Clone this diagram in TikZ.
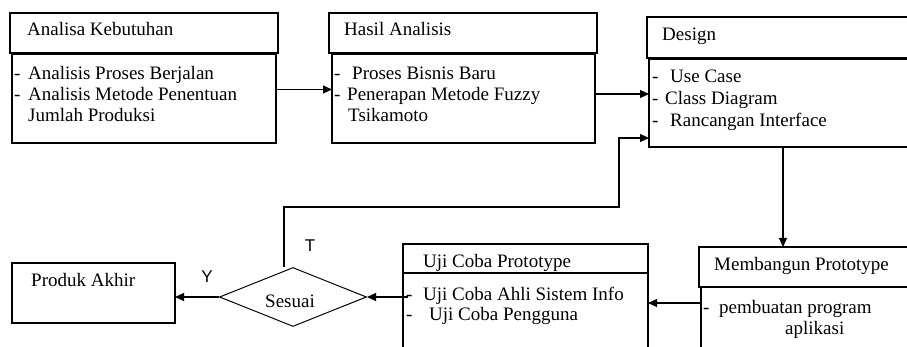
\documentclass[tikz,border=0pt]{standalone}
\usepackage{fontspec}
\setmainfont{Liberation Serif}
\newfontfamily\labelfont{Liberation Sans}
\usetikzlibrary{arrows.meta,shapes.geometric}
\begin{document}
\begin{tikzpicture}[x=1pt,y=-1pt,
  box/.style={draw, line width=1.1pt, anchor=north west, inner sep=0pt, outer sep=0pt},
  txt/.style={inner sep=0pt, anchor=base west, font=\fontsize{19}{21}\selectfont},
  yn/.style={inner sep=0pt, anchor=center, font=\labelfont\fontsize{17}{19}\selectfont},
  conn/.style={line width=1.1pt, -{Triangle[length=9pt,width=8pt]}}]
\useasboundingbox (0,0) rectangle (907,347);
\fill[white] (0,0) rectangle (907,347);
\clip (0,0) rectangle (907,347);

% Analisa Kebutuhan
\node[box, minimum width=268pt, minimum height=40pt] (akh) at (10,13) {};
\node[box, minimum width=264pt, minimum height=89pt] (akb) at (12,54) {};
\node[txt] (akt) at (27,36) {Analisa Kebutuhan};
\node[txt] (akd1) at (14,80) {-};
\node[txt] (ak1) at (28,80) {Analisis Proses Berjalan};
\node[txt] (akd2) at (14,101) {-};
\node[txt] (ak2) at (28,101) {Analisis Metode Penentuan};
\node[txt] (ak3) at (28,122) {Jumlah Produksi};

% Hasil Analisis
\node[box, minimum width=268pt, minimum height=40pt] (hah) at (329,13) {};
\node[box, minimum width=263pt, minimum height=89pt] (hab) at (332,54) {};
\node[txt] (hat) at (344,36) {Hasil Analisis};
\node[txt] (had1) at (334,80) {-};
\node[txt] (ha1) at (352,80) {Proses Bisnis Baru};
\node[txt] (had2) at (334,101) {-};
\node[txt] (ha2) at (347,101) {Penerapan Metode Fuzzy};
\node[txt] (ha3) at (348,122) {Tsikamoto};

% Design
\node[box, minimum width=280pt, minimum height=41pt] (dsh) at (647,17) {};
\node[box, minimum width=280pt, minimum height=88pt] (dsb) at (649,59) {};
\node[txt] (dst) at (662,41) {Design};
\node[txt] (dsd1) at (652,83) {-};
\node[txt] (ds1) at (670,83) {Use Case};
\node[txt] (dsd2) at (652,105) {-};
\node[txt] (ds2) at (665,105) {Class Diagram};
\node[txt] (dsd3) at (652,127) {-};
\node[txt] (ds3) at (670,127) {Rancangan Interface};

% Membangun Prototype
\node[box, minimum width=230pt, minimum height=40pt] (mbh) at (699,247) {};
\node[box, minimum width=228pt, minimum height=80pt] (mbb) at (701,287) {};
\node[txt] (mbt) at (714,271) {Membangun Prototype};
\node[txt] (mbd1) at (703,313) {-};
\node[txt] (mb1) at (719,313) {pembuatan program};
\node[txt] (mb2) at (785,334) {aplikasi};

% Uji Coba Prototype
\node[box, minimum width=245pt, minimum height=29pt] (ujh) at (403,244) {};
\node[box, minimum width=245pt, minimum height=90pt] (ujb) at (403,273) {};
\node[txt] (ujt) at (423,268) {Uji Coba Prototype};
\node[txt] (ujd1) at (406,300) {-};
\node[txt] (uj1) at (423,300) {Uji Coba Ahli Sistem Info};
\node[txt] (ujd2) at (406,320) {-};
\node[txt] (uj2) at (429,320) {Uji Coba Pengguna};

% Decision and final product
\node[draw, diamond, aspect=2.5, minimum width=147pt, minimum height=59pt,
      inner sep=0pt, line width=1pt] (dia) at (293,297) {};
\node[txt] (dit) at (265,307) {Sesuai};
\node[box, minimum width=163pt, minimum height=60pt] (prd) at (12,263) {};
\node[txt] (prt) at (31,287) {Produk Akhir};

\node[yn] (lt) at (310,246) {T};
\node[yn] (ly) at (207,277) {Y};

% Connectors
\draw[conn] ([yshift=9pt]akb.east) coordinate (a1) -- (a1 -| hab.west);
\draw[conn] ([yshift=4.5pt]hab.east) coordinate (a2) -- (a2 -| dsb.west);
\coordinate (lp) at (619,207);
\draw[conn] ([xshift=-9pt]dia.north) |- (lp) |- ([yshift=-35pt]dsb.west);
\coordinate (dx) at (783,0);
\draw[conn] (dsb.south -| dx) -- (mbh.north -| dx);
\coordinate (my) at (0,303);
\draw[conn] (mbb.west |- my) -- (ujb.east |- my);
\draw[conn] ([xshift=5pt]ujb.west |- dia.east) -- (dia.east);
\draw[conn] (dia.west) -- (dia.west -| prd.east);
\end{tikzpicture}
\end{document}
